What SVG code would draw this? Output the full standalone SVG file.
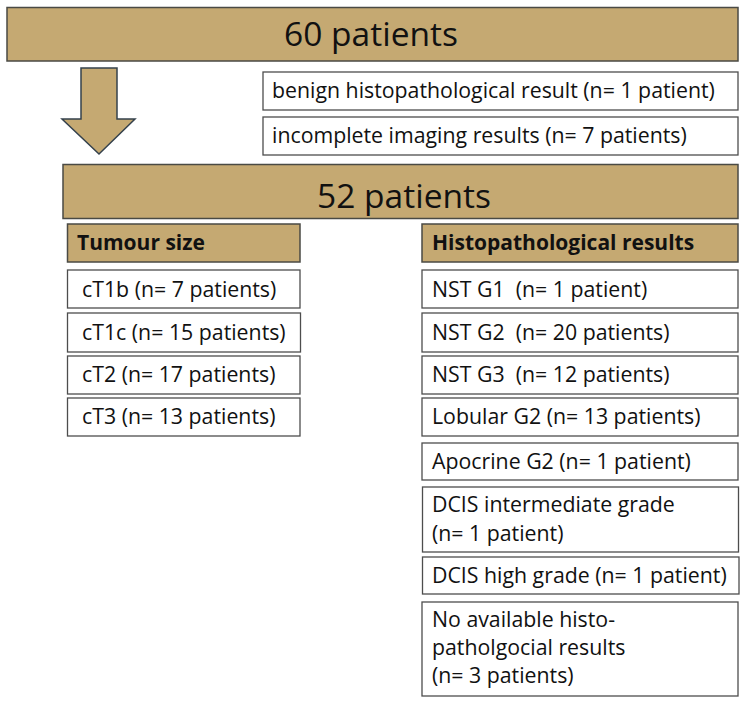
<svg xmlns="http://www.w3.org/2000/svg" width="747" height="706" viewBox="0 0 747 706">
<style>
.tan{fill:#C5A972;stroke:#4a4a44;stroke-width:1.5}
.box{fill:#ffffff;stroke:#4d4d4d;stroke-width:1.3}
text{font-family:"Open Sans","Liberation Sans",sans-serif;fill:#111111;font-weight:500}
.big{font-size:33.5px;text-anchor:middle}
.t{font-size:21.3px;white-space:pre}
.h{font-size:21px;font-weight:bold}
</style>
<rect width="747" height="706" fill="#ffffff"/>
<g id="n60"><rect class="tan" x="7" y="7.5" width="731" height="53.5"/><text class="big" x="371" y="46">60 patients</text></g>
<g id="connectors"><path d="M81,68 H117 V119 H135 L99,154 L62,119 H81 Z" fill="#C5A972" stroke="#34414c" stroke-width="1.5" stroke-linejoin="miter"/></g>
<g id="benign"><rect class="box" x="263" y="72" width="475" height="38"/><text class="t" x="272" y="98">benign histopathological result (n= 1 patient)</text></g>
<g id="incomplete"><rect class="box" x="263" y="117" width="475" height="38"/><text class="t" x="272" y="143">incomplete imaging results (n= 7 patients)</text></g>
<g id="n52"><rect class="tan" x="63" y="164.5" width="675" height="54"/><text class="big" x="404" y="208">52 patients</text></g>
<g id="tumour"><rect class="tan" x="67.5" y="224" width="232.5" height="38"/><text class="h" x="77" y="250">Tumour size</text></g>
<g id="ct1b"><rect class="box" x="67.5" y="270" width="232.5" height="38"/><text class="t" x="82" y="297">cT1b (n= 7 patients)</text></g>
<g id="ct1c"><rect class="box" x="67.5" y="313" width="233" height="39"/><text class="t" x="82" y="340">cT1c (n= 15 patients)</text></g>
<g id="ct2"><rect class="box" x="67.5" y="356" width="232.5" height="38"/><text class="t" x="82" y="382">cT2 (n= 17 patients)</text></g>
<g id="ct3"><rect class="box" x="67.5" y="398" width="232.5" height="38"/><text class="t" x="82" y="424">cT3 (n= 13 patients)</text></g>
<g id="histo"><rect class="tan" x="422" y="224" width="316" height="38"/><text class="h" x="432" y="250">Histopathological results</text></g>
<g id="nstg1"><rect class="box" x="422" y="270" width="316" height="38"/><text class="t" x="432" y="297">NST G1  (n= 1 patient)</text></g>
<g id="nstg2"><rect class="box" x="422" y="313" width="316" height="39"/><text class="t" x="432" y="340">NST G2  (n= 20 patients)</text></g>
<g id="nstg3"><rect class="box" x="422" y="356" width="316" height="38"/><text class="t" x="432" y="382">NST G3  (n= 12 patients)</text></g>
<g id="lobular"><rect class="box" x="422" y="398" width="316" height="38"/><text class="t" x="432" y="424">Lobular G2 (n= 13 patients)</text></g>
<g id="apocrine"><rect class="box" x="422" y="443" width="316" height="37"/><text class="t" x="432" y="469">Apocrine G2 (n= 1 patient)</text></g>
<g id="dcisint"><rect class="box" x="422.5" y="487" width="316" height="65"/><text class="t" x="432" y="512">DCIS intermediate grade</text><text class="t" x="432" y="541">(n= 1 patient)</text></g>
<g id="dcishigh"><rect class="box" x="422.5" y="557" width="316.5" height="37"/><text class="t" x="432" y="583">DCIS high grade (n= 1 patient)</text></g>
<g id="noavail"><rect class="box" x="422" y="602" width="316" height="94"/><text class="t" x="432" y="627">No available histo-</text><text class="t" x="432" y="655">patholgocial results</text><text class="t" x="432" y="683">(n= 3 patients)</text></g>
</svg>
